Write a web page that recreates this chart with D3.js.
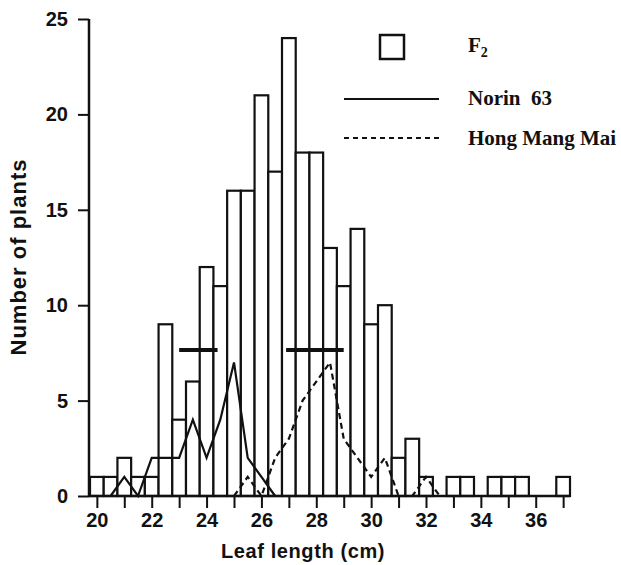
<!DOCTYPE html>
<html>
<head>
<meta charset="utf-8">
<script src="https://cdn.jsdelivr.net/npm/d3@7"></script>
<style>
  body { margin: 0; background: #fff; }
  svg { display: block; }
</style>
</head>
<body>
<div id="grafico"></div>
<script>
// F2 histogram, bins of 0.5 cm
const leafLength = [20, 20.5, 21, 21.5, 22, 22.5, 23, 23.5, 24, 24.5, 25, 25.5, 26, 26.5, 27, 27.5, 28, 28.5,
                    29, 29.5, 30, 30.5, 31, 31.5, 32, 32.5, 33, 33.5, 34, 34.5, 35, 35.5, 36, 36.5, 37];
const f2Counts = [1, 1, 2, 1, 1, 9, 4, 6, 12, 11, 16, 16, 21, 17, 24, 18, 18, 13,
                  11, 14, 9, 10, 2, 3, 1, 0, 1, 1, 0, 1, 1, 1, 0, 0, 1];

// parent Norin 63 (solid)
const norinLength = [20.5, 21, 21.5, 22, 22.5, 23, 23.5, 24, 24.5, 25, 25.5, 26, 26.5];
const norinCounts = [0, 1, 0, 2, 2, 2, 4, 2, 4, 7, 2, 1, 0];

// parent Hong Mang Mai (dashed)
const hongLength = [25, 25.5, 26, 26.5, 27, 27.5, 28, 28.5, 29, 29.5, 30, 30.5, 31, 31.5, 32, 32.5];
const hongCounts = [0, 1, 0, 2, 3, 5, 6, 7, 3, 2, 1, 2, 0, 0, 1, 0];

// horizontal range bars of the parents
const rangeStart = [23.0, 26.9];
const rangeEnd = [24.4, 29.0];
const rangeLevel = [7.65, 7.65];

const yTicks = [0, 5, 10, 15, 20, 25];
const xTicks = [20, 21, 22, 23, 24, 25, 26, 27, 28, 29, 30, 31, 32, 33, 34, 35, 36, 37];

const largura = 621;
const altura = 565;

const svg = d3.select("#grafico")
    .append("svg")
    .attr("width", largura)
    .attr("height", altura)
    .style("background", "#fff");

const x = d3.scaleLinear().domain([19.75, 37.25]).range([90, 570]);
const y = d3.scaleLinear().domain([0, 25]).range([496, 19]);

const sans = "'Liberation Sans', Arial, Helvetica, sans-serif";
const serif = "'Liberation Serif', 'Times New Roman', serif";

//barras do F2
const bins = leafLength.map((c, i) => ({ c: c, v: f2Counts[i] })).filter(d => d.v > 0);
svg.selectAll("rect.bar")
    .data(bins)
    .enter()
    .append("rect")
    .attr("class", "bar")
    .attr("x", d => x(d.c - 0.25))
    .attr("width", d => x(d.c + 0.25) - x(d.c - 0.25))
    .attr("y", d => y(d.v))
    .attr("height", d => y(0) - y(d.v))
    .attr("fill", "#fff")
    .attr("stroke", "#111")
    .attr("stroke-width", 2.2);

//linhas dos pais
const linha = d3.line().x(d => x(d[0])).y(d => y(d[1]));

svg.append("path")
    .datum(norinLength.map((c, i) => [c, norinCounts[i]]))
    .attr("d", linha)
    .attr("fill", "none")
    .attr("stroke", "#111")
    .attr("stroke-width", 2.2);

svg.append("path")
    .datum(hongLength.map((c, i) => [c, hongCounts[i]]))
    .attr("d", linha)
    .attr("fill", "none")
    .attr("stroke", "#111")
    .attr("stroke-width", 2.2)
    .attr("stroke-dasharray", "6,4");

svg.selectAll("line.range")
    .data(rangeStart.map((s, i) => ({ s: s, e: rangeEnd[i], v: rangeLevel[i] })))
    .enter()
    .append("line")
    .attr("class", "range")
    .attr("x1", d => x(d.s))
    .attr("x2", d => x(d.e))
    .attr("y1", d => y(d.v))
    .attr("y2", d => y(d.v))
    .attr("stroke", "#111")
    .attr("stroke-width", 4);

//eixos
const eixoY = svg.append("g")
    .attr("transform", "translate(89,0)")
    .call(d3.axisLeft(y).tickValues(yTicks).tickSize(11).tickSizeOuter(0).tickPadding(10));

const eixoX = svg.append("g")
    .attr("transform", `translate(0,${y(0)})`)
    .call(d3.axisBottom(x).tickValues(xTicks).tickSize(12).tickSizeOuter(0).tickPadding(5)
        .tickFormat(d => d % 2 === 0 ? d : ""));

[eixoY, eixoX].forEach(g => {
    g.select(".domain").attr("stroke", "#111").attr("stroke-width", 2.5);
    g.selectAll(".tick line").attr("stroke", "#111").attr("stroke-width", 2);
    g.selectAll(".tick text")
        .attr("fill", "#111")
        .style("font-family", sans)
        .style("font-size", "20px")
        .style("font-weight", "bold");
});
eixoY.select(".domain").attr("d", `M0,${y(25)}V${y(0)}`);
eixoX.select(".domain").attr("d", `M89,0H570`);

//titulos dos eixos
svg.append("text")
    .attr("transform", "translate(26,257) rotate(-90)")
    .attr("text-anchor", "middle")
    .attr("fill", "#111")
    .style("font-family", sans)
    .style("font-size", "22px")
    .style("font-weight", "bold")
    .style("letter-spacing", "1px")
    .text("Number of plants");

svg.append("text")
    .attr("x", 303)
    .attr("y", 558)
    .attr("text-anchor", "middle")
    .attr("fill", "#111")
    .style("font-family", sans)
    .style("font-size", "20px")
    .style("font-weight", "bold")
    .style("letter-spacing", "0.6px")
    .text("Leaf length (cm)");

//legenda
svg.append("rect")
    .attr("x", 380).attr("y", 35)
    .attr("width", 24).attr("height", 24)
    .attr("fill", "#fff")
    .attr("stroke", "#111")
    .attr("stroke-width", 2.5);

const f2 = svg.append("text")
    .attr("x", 468).attr("y", 52)
    .attr("fill", "#111")
    .style("font-family", serif)
    .style("font-size", "21px")
    .style("font-weight", "bold");
f2.append("tspan").text("F");
f2.append("tspan").attr("dy", 5).style("font-size", "14px").text("2");

svg.append("line")
    .attr("x1", 344).attr("x2", 439).attr("y1", 99).attr("y2", 99)
    .attr("stroke", "#111").attr("stroke-width", 2);
svg.append("line")
    .attr("x1", 344).attr("x2", 439).attr("y1", 138).attr("y2", 138)
    .attr("stroke", "#111").attr("stroke-width", 2).attr("stroke-dasharray", "5,4");

svg.append("text")
    .attr("x", 468).attr("y", 105)
    .attr("fill", "#111")
    .style("font-family", serif)
    .style("font-size", "21px")
    .style("font-weight", "bold")
    .attr("xml:space", "preserve")
    .text("Norin  63");

svg.append("text")
    .attr("x", 468).attr("y", 145)
    .attr("fill", "#111")
    .style("font-family", serif)
    .style("font-size", "21px")
    .style("font-weight", "bold")
    .text("Hong Mang Mai");
</script>
</body>
</html>
